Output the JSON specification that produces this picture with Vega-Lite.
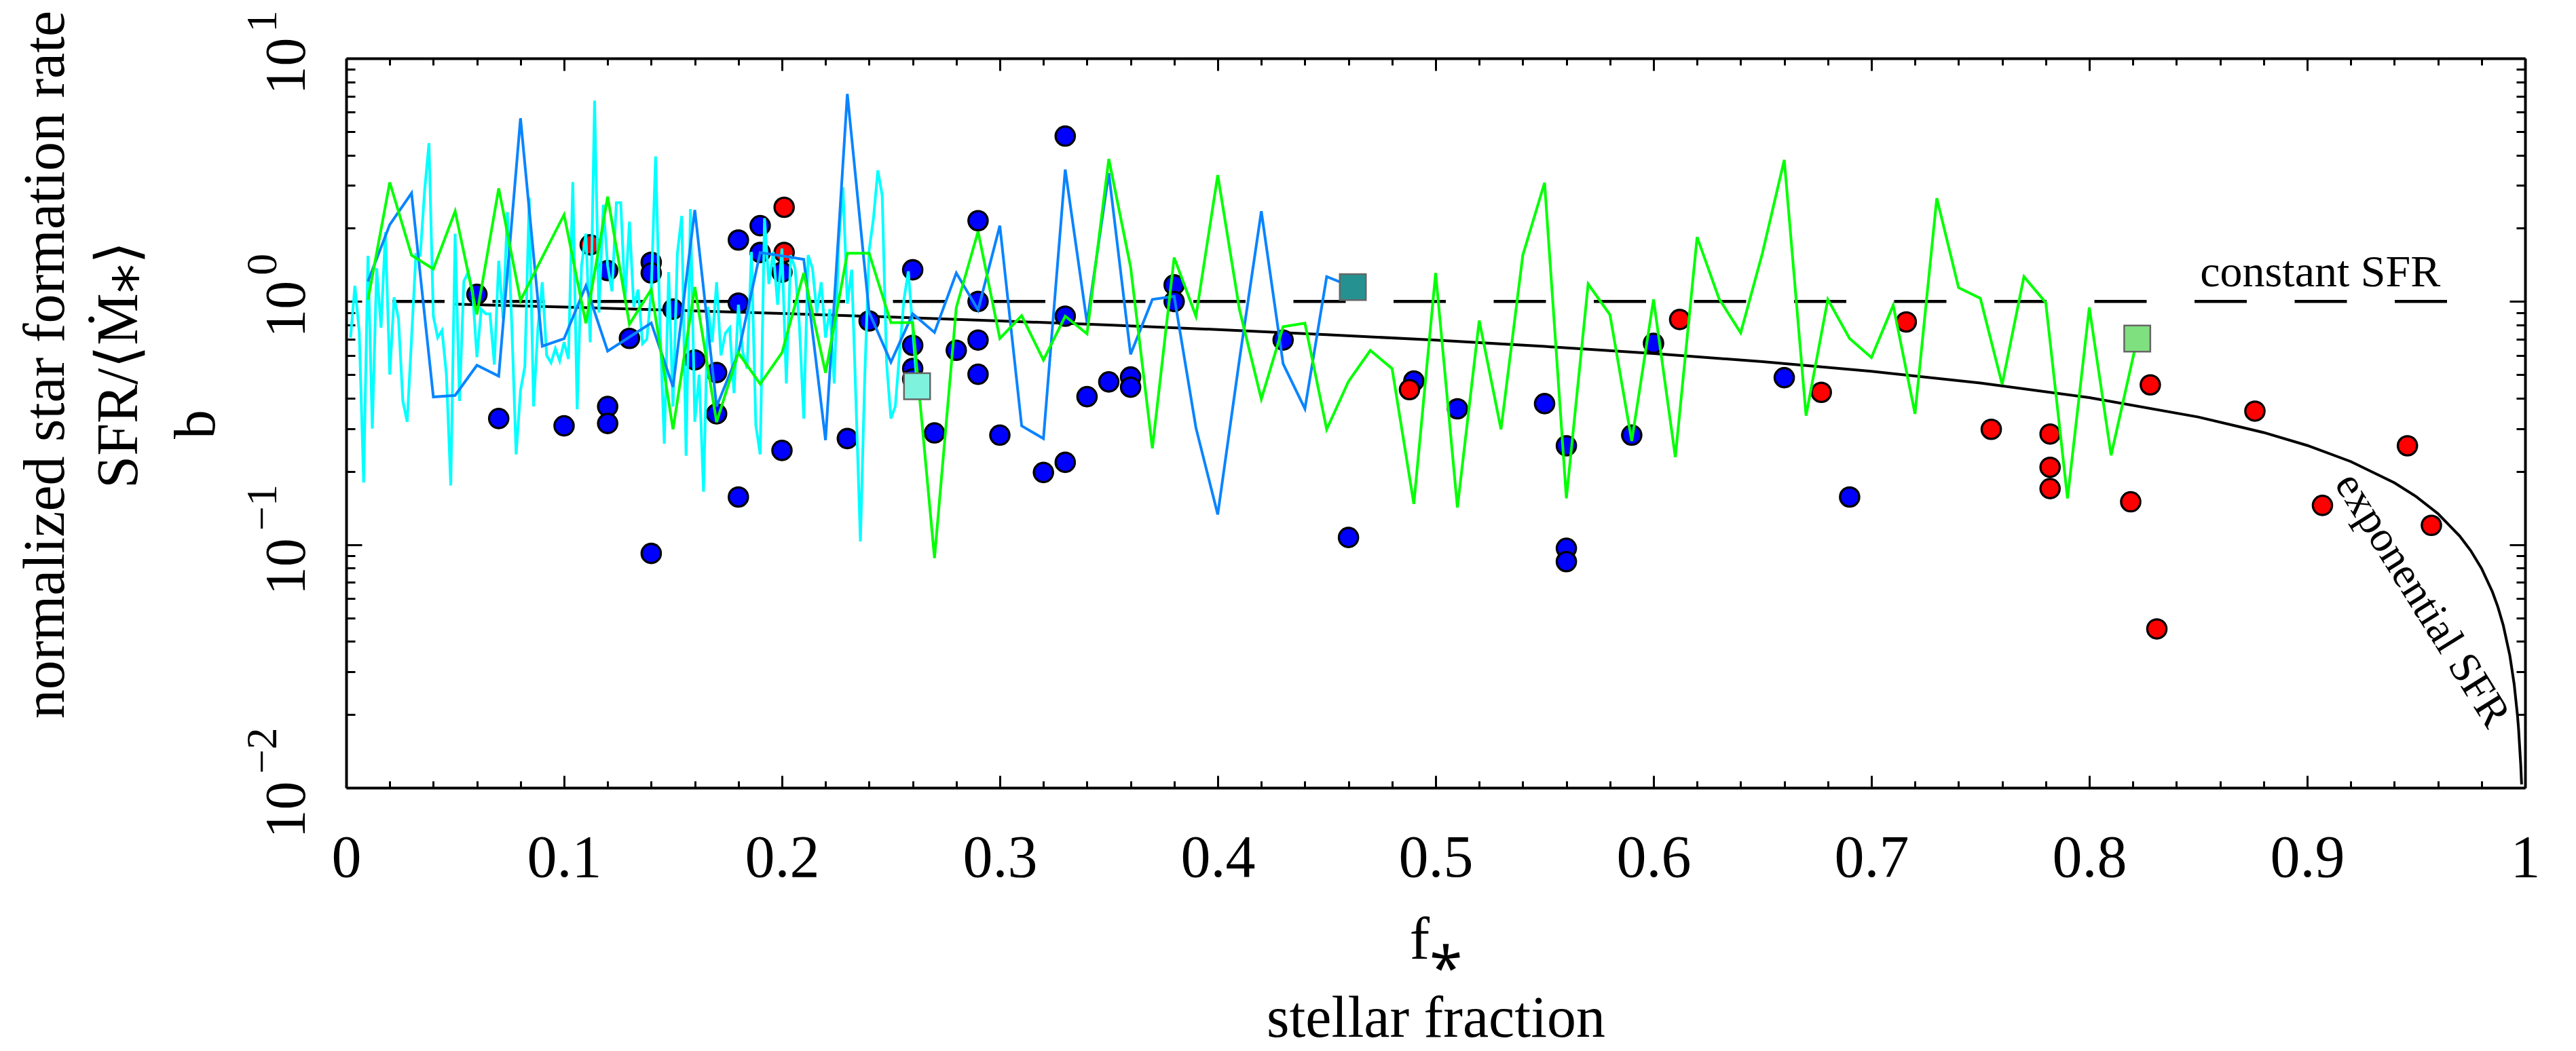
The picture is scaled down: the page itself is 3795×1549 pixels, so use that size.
{
  "$schema": "https://vega.github.io/schema/vega-lite/v6.json",
  "width": 3210,
  "height": 1075,
  "autosize": {"type": "none"},
  "padding": {"left": 510, "top": 86, "right": 75, "bottom": 388},
  "background": "white",
  "config": {
    "view": {"stroke": null},
    "font": "Liberation Serif",
    "axis": {
      "grid": false,
      "tickColor": "black",
      "tickWidth": 3,
      "domainColor": "black",
      "domainWidth": 4,
      "labelColor": "black",
      "labelFont": "Liberation Serif",
      "titleFont": "Liberation Serif",
      "titleColor": "black",
      "titleFontWeight": "normal",
      "labelOverlap": false,
      "labelFlush": false,
      "labelBound": false
    }
  },
  "resolve": {"axis": {"x": "independent", "y": "independent"}, "scale": {"fill": "independent"}},
  "datasets": {
    "constline": [{"f": 0, "b": 1}, {"f": 0.97, "b": 1}],
    "expo": [
      {"f": 0.05, "b": 0.97457}, {"f": 0.1, "b": 0.948245}, {"f": 0.15, "b": 0.92094}, {"f": 0.2, "b": 0.892574},
      {"f": 0.25, "b": 0.863046}, {"f": 0.3, "b": 0.832241}, {"f": 0.35, "b": 0.800025}, {"f": 0.4, "b": 0.766238},
      {"f": 0.45, "b": 0.73069}, {"f": 0.5, "b": 0.693147}, {"f": 0.55, "b": 0.653325}, {"f": 0.6, "b": 0.61086},
      {"f": 0.65, "b": 0.565289}, {"f": 0.7, "b": 0.515988}, {"f": 0.75, "b": 0.462098}, {"f": 0.8, "b": 0.402359},
      {"f": 0.85, "b": 0.334786}, {"f": 0.88, "b": 0.289127}, {"f": 0.9, "b": 0.255843}, {"f": 0.92, "b": 0.219629},
      {"f": 0.94, "b": 0.179579}, {"f": 0.95, "b": 0.15767}, {"f": 0.96, "b": 0.13412}, {"f": 0.97, "b": 0.10845},
      {"f": 0.975, "b": 0.094587}, {"f": 0.98, "b": 0.079837}, {"f": 0.985, "b": 0.063955}, {"f": 0.9875, "b": 0.055468},
      {"f": 0.99, "b": 0.046517}, {"f": 0.993, "b": 0.034978}, {"f": 0.995, "b": 0.026625}, {"f": 0.9965, "b": 0.019862},
      {"f": 0.997, "b": 0.01748}, {"f": 0.998, "b": 0.012454}, {"f": 0.9984, "b": 0.010317}
    ],
    "pts": [
      {"f": 0.06, "b": 1.07, "kind": "blue"}, {"f": 0.07, "b": 0.33, "kind": "blue"}, {"f": 0.10, "b": 0.308, "kind": "blue"},
      {"f": 0.12, "b": 1.34, "kind": "blue"}, {"f": 0.12, "b": 0.37, "kind": "blue"}, {"f": 0.12, "b": 0.315, "kind": "blue"},
      {"f": 0.13, "b": 0.705, "kind": "blue"}, {"f": 0.14, "b": 1.45, "kind": "blue"}, {"f": 0.14, "b": 1.31, "kind": "blue"},
      {"f": 0.14, "b": 0.092, "kind": "blue"}, {"f": 0.15, "b": 0.93, "kind": "blue"}, {"f": 0.16, "b": 0.575, "kind": "blue"},
      {"f": 0.17, "b": 0.51, "kind": "blue"}, {"f": 0.17, "b": 0.345, "kind": "blue"}, {"f": 0.18, "b": 1.79, "kind": "blue"},
      {"f": 0.18, "b": 0.985, "kind": "blue"}, {"f": 0.18, "b": 0.157, "kind": "blue"}, {"f": 0.19, "b": 2.05, "kind": "blue"},
      {"f": 0.19, "b": 1.59, "kind": "blue"}, {"f": 0.20, "b": 1.32, "kind": "blue"}, {"f": 0.20, "b": 0.244, "kind": "blue"},
      {"f": 0.23, "b": 0.273, "kind": "blue"}, {"f": 0.24, "b": 0.832, "kind": "blue"}, {"f": 0.26, "b": 1.35, "kind": "blue"},
      {"f": 0.26, "b": 0.66, "kind": "blue"}, {"f": 0.26, "b": 0.53, "kind": "blue"}, {"f": 0.26, "b": 0.48, "kind": "blue"},
      {"f": 0.27, "b": 0.288, "kind": "blue"}, {"f": 0.28, "b": 0.63, "kind": "blue"}, {"f": 0.29, "b": 2.15, "kind": "blue"},
      {"f": 0.29, "b": 1.0, "kind": "blue"}, {"f": 0.29, "b": 0.694, "kind": "blue"}, {"f": 0.29, "b": 0.502, "kind": "blue"},
      {"f": 0.30, "b": 0.282, "kind": "blue"}, {"f": 0.32, "b": 0.198, "kind": "blue"}, {"f": 0.33, "b": 4.79, "kind": "blue"},
      {"f": 0.33, "b": 0.87, "kind": "blue"}, {"f": 0.33, "b": 0.218, "kind": "blue"}, {"f": 0.34, "b": 0.406, "kind": "blue"},
      {"f": 0.35, "b": 0.467, "kind": "blue"}, {"f": 0.36, "b": 0.489, "kind": "blue"}, {"f": 0.36, "b": 0.444, "kind": "blue"},
      {"f": 0.38, "b": 1.17, "kind": "blue"}, {"f": 0.38, "b": 1.0, "kind": "blue"}, {"f": 0.43, "b": 0.694, "kind": "blue"},
      {"f": 0.46, "b": 0.107, "kind": "blue"}, {"f": 0.49, "b": 0.471, "kind": "blue"}, {"f": 0.51, "b": 0.362, "kind": "blue"},
      {"f": 0.55, "b": 0.38, "kind": "blue"}, {"f": 0.56, "b": 0.255, "kind": "blue"}, {"f": 0.56, "b": 0.0966, "kind": "blue"},
      {"f": 0.56, "b": 0.0851, "kind": "blue"}, {"f": 0.59, "b": 0.282, "kind": "blue"}, {"f": 0.60, "b": 0.673, "kind": "blue"},
      {"f": 0.66, "b": 0.486, "kind": "blue"}, {"f": 0.69, "b": 0.157, "kind": "blue"},
      {"f": 0.112, "b": 1.71, "kind": "red"}, {"f": 0.201, "b": 2.44, "kind": "red"}, {"f": 0.201, "b": 1.59, "kind": "red"},
      {"f": 0.488, "b": 0.434, "kind": "red"}, {"f": 0.612, "b": 0.843, "kind": "red"}, {"f": 0.677, "b": 0.423, "kind": "red"},
      {"f": 0.716, "b": 0.824, "kind": "red"}, {"f": 0.755, "b": 0.298, "kind": "red"}, {"f": 0.782, "b": 0.285, "kind": "red"},
      {"f": 0.782, "b": 0.208, "kind": "red"}, {"f": 0.782, "b": 0.17, "kind": "red"}, {"f": 0.819, "b": 0.15, "kind": "red"},
      {"f": 0.828, "b": 0.454, "kind": "red"}, {"f": 0.831, "b": 0.045, "kind": "red"}, {"f": 0.876, "b": 0.354, "kind": "red"},
      {"f": 0.907, "b": 0.145, "kind": "red"}, {"f": 0.946, "b": 0.255, "kind": "red"}, {"f": 0.957, "b": 0.12, "kind": "red"}
    ],
    "cyan": [
      {"f": 0.002, "b": 0.71}, {"f": 0.004, "b": 1.16}, {"f": 0.006, "b": 0.75}, {"f": 0.008, "b": 0.18}, {"f": 0.010, "b": 1.54},
      {"f": 0.012, "b": 0.30}, {"f": 0.014, "b": 1.37}, {"f": 0.016, "b": 0.78}, {"f": 0.018, "b": 1.93}, {"f": 0.020, "b": 0.50},
      {"f": 0.022, "b": 1.04}, {"f": 0.024, "b": 0.85}, {"f": 0.026, "b": 0.39}, {"f": 0.028, "b": 0.32}, {"f": 0.032, "b": 1.56},
      {"f": 0.034, "b": 1.55}, {"f": 0.036, "b": 2.86}, {"f": 0.038, "b": 4.48}, {"f": 0.040, "b": 0.87}, {"f": 0.042, "b": 0.71},
      {"f": 0.044, "b": 0.76}, {"f": 0.046, "b": 0.50}, {"f": 0.048, "b": 0.175}, {"f": 0.050, "b": 1.9}, {"f": 0.052, "b": 0.39},
      {"f": 0.054, "b": 1.21}, {"f": 0.056, "b": 1.32}, {"f": 0.058, "b": 1.1}, {"f": 0.060, "b": 0.59}, {"f": 0.062, "b": 0.93},
      {"f": 0.064, "b": 0.89}, {"f": 0.066, "b": 0.89}, {"f": 0.068, "b": 0.55}, {"f": 0.070, "b": 1.47}, {"f": 0.072, "b": 0.85},
      {"f": 0.074, "b": 2.33}, {"f": 0.076, "b": 0.8}, {"f": 0.078, "b": 0.235}, {"f": 0.080, "b": 0.43}, {"f": 0.082, "b": 0.54},
      {"f": 0.084, "b": 2.67}, {"f": 0.086, "b": 0.37}, {"f": 0.088, "b": 0.78}, {"f": 0.090, "b": 1.2}, {"f": 0.092, "b": 0.6},
      {"f": 0.094, "b": 0.56}, {"f": 0.096, "b": 0.64}, {"f": 0.098, "b": 0.57}, {"f": 0.100, "b": 0.68}, {"f": 0.102, "b": 0.58},
      {"f": 0.104, "b": 3.1}, {"f": 0.106, "b": 0.36}, {"f": 0.108, "b": 1.4}, {"f": 0.110, "b": 1.9}, {"f": 0.112, "b": 0.68},
      {"f": 0.114, "b": 6.7}, {"f": 0.116, "b": 0.90}, {"f": 0.118, "b": 2.5}, {"f": 0.120, "b": 1.4}, {"f": 0.122, "b": 1.1},
      {"f": 0.124, "b": 2.55}, {"f": 0.126, "b": 2.55}, {"f": 0.128, "b": 1.02}, {"f": 0.130, "b": 2.13}, {"f": 0.132, "b": 0.95},
      {"f": 0.134, "b": 1.12}, {"f": 0.136, "b": 0.67}, {"f": 0.138, "b": 0.70}, {"f": 0.140, "b": 1.1}, {"f": 0.142, "b": 3.95},
      {"f": 0.144, "b": 0.8}, {"f": 0.146, "b": 0.26}, {"f": 0.148, "b": 1.32}, {"f": 0.150, "b": 0.37}, {"f": 0.152, "b": 1.58},
      {"f": 0.154, "b": 2.25}, {"f": 0.156, "b": 0.232}, {"f": 0.158, "b": 2.4}, {"f": 0.160, "b": 0.32}, {"f": 0.162, "b": 0.5},
      {"f": 0.164, "b": 0.165}, {"f": 0.166, "b": 0.95}, {"f": 0.168, "b": 0.68}, {"f": 0.170, "b": 1.2}, {"f": 0.172, "b": 0.6},
      {"f": 0.174, "b": 0.74}, {"f": 0.176, "b": 0.78}, {"f": 0.178, "b": 0.42}, {"f": 0.180, "b": 0.97}, {"f": 0.182, "b": 0.62},
      {"f": 0.184, "b": 0.53}, {"f": 0.186, "b": 1.6}, {"f": 0.188, "b": 0.31}, {"f": 0.190, "b": 0.235}, {"f": 0.192, "b": 2.2},
      {"f": 0.194, "b": 1.18}, {"f": 0.196, "b": 1.6}, {"f": 0.198, "b": 0.97}, {"f": 0.200, "b": 1.65}, {"f": 0.202, "b": 0.46},
      {"f": 0.204, "b": 1.55}, {"f": 0.206, "b": 1.37}, {"f": 0.208, "b": 0.8}, {"f": 0.210, "b": 0.33}, {"f": 0.212, "b": 1.55},
      {"f": 0.214, "b": 1.37}, {"f": 0.216, "b": 0.9}, {"f": 0.218, "b": 1.2}, {"f": 0.220, "b": 0.71}, {"f": 0.222, "b": 0.93},
      {"f": 0.224, "b": 0.46}, {"f": 0.226, "b": 1.72}, {"f": 0.228, "b": 2.95}, {"f": 0.230, "b": 0.98}, {"f": 0.232, "b": 1.35},
      {"f": 0.234, "b": 0.38}, {"f": 0.236, "b": 0.103}, {"f": 0.238, "b": 0.49}, {"f": 0.240, "b": 1.62}, {"f": 0.242, "b": 2.2},
      {"f": 0.244, "b": 3.46}, {"f": 0.246, "b": 2.73}, {"f": 0.248, "b": 0.56}, {"f": 0.250, "b": 0.33}, {"f": 0.252, "b": 0.37},
      {"f": 0.254, "b": 0.62}, {"f": 0.256, "b": 1.02}, {"f": 0.258, "b": 1.33}, {"f": 0.262, "b": 0.448}
    ],
    "blueline": [
      {"f": 0.01, "b": 1.21}, {"f": 0.02, "b": 2.07}, {"f": 0.03, "b": 2.79}, {"f": 0.04, "b": 0.405}, {"f": 0.05, "b": 0.411},
      {"f": 0.06, "b": 0.547}, {"f": 0.07, "b": 0.493}, {"f": 0.08, "b": 5.67}, {"f": 0.09, "b": 0.655}, {"f": 0.10, "b": 0.703},
      {"f": 0.11, "b": 1.16}, {"f": 0.12, "b": 0.625}, {"f": 0.13, "b": 0.714}, {"f": 0.14, "b": 0.816}, {"f": 0.15, "b": 0.445},
      {"f": 0.16, "b": 2.38}, {"f": 0.17, "b": 0.37}, {"f": 0.18, "b": 0.615}, {"f": 0.19, "b": 1.59}, {"f": 0.20, "b": 1.54},
      {"f": 0.21, "b": 1.49}, {"f": 0.22, "b": 0.269}, {"f": 0.23, "b": 7.14}, {"f": 0.24, "b": 0.903}, {"f": 0.25, "b": 0.563},
      {"f": 0.26, "b": 0.89}, {"f": 0.27, "b": 0.746}, {"f": 0.28, "b": 1.31}, {"f": 0.29, "b": 0.923}, {"f": 0.30, "b": 2.05},
      {"f": 0.31, "b": 0.308}, {"f": 0.32, "b": 0.273}, {"f": 0.33, "b": 3.49}, {"f": 0.34, "b": 0.817}, {"f": 0.35, "b": 3.37},
      {"f": 0.36, "b": 0.606}, {"f": 0.37, "b": 1.02}, {"f": 0.38, "b": 1.05}, {"f": 0.39, "b": 0.302}, {"f": 0.40, "b": 0.133},
      {"f": 0.41, "b": 0.58}, {"f": 0.42, "b": 2.35}, {"f": 0.43, "b": 0.554}, {"f": 0.44, "b": 0.362}, {"f": 0.45, "b": 1.265},
      {"f": 0.462, "b": 1.146}
    ],
    "green": [
      {"f": 0.01, "b": 1.017}, {"f": 0.02, "b": 3.09}, {"f": 0.03, "b": 1.55}, {"f": 0.04, "b": 1.36}, {"f": 0.05, "b": 2.35},
      {"f": 0.06, "b": 0.885}, {"f": 0.07, "b": 2.92}, {"f": 0.08, "b": 1.01}, {"f": 0.09, "b": 1.52}, {"f": 0.10, "b": 2.275},
      {"f": 0.11, "b": 0.814}, {"f": 0.12, "b": 2.70}, {"f": 0.13, "b": 0.806}, {"f": 0.14, "b": 1.12}, {"f": 0.15, "b": 0.298},
      {"f": 0.16, "b": 1.146}, {"f": 0.17, "b": 0.319}, {"f": 0.18, "b": 0.615}, {"f": 0.19, "b": 0.458}, {"f": 0.20, "b": 0.615},
      {"f": 0.21, "b": 1.31}, {"f": 0.22, "b": 0.509}, {"f": 0.23, "b": 1.58}, {"f": 0.24, "b": 1.58}, {"f": 0.25, "b": 0.818},
      {"f": 0.26, "b": 0.818}, {"f": 0.27, "b": 0.088}, {"f": 0.28, "b": 0.944}, {"f": 0.29, "b": 1.94}, {"f": 0.30, "b": 0.704},
      {"f": 0.31, "b": 0.874}, {"f": 0.32, "b": 0.574}, {"f": 0.33, "b": 0.87}, {"f": 0.34, "b": 0.736}, {"f": 0.35, "b": 3.86},
      {"f": 0.36, "b": 1.386}, {"f": 0.37, "b": 0.249}, {"f": 0.38, "b": 1.516}, {"f": 0.39, "b": 0.87}, {"f": 0.40, "b": 3.31},
      {"f": 0.41, "b": 0.923}, {"f": 0.42, "b": 0.397}, {"f": 0.43, "b": 0.788}, {"f": 0.44, "b": 0.814}, {"f": 0.45, "b": 0.298},
      {"f": 0.46, "b": 0.469}, {"f": 0.47, "b": 0.629}, {"f": 0.48, "b": 0.530}, {"f": 0.49, "b": 0.147}, {"f": 0.50, "b": 1.31},
      {"f": 0.51, "b": 0.142}, {"f": 0.52, "b": 0.835}, {"f": 0.53, "b": 0.298}, {"f": 0.54, "b": 1.55}, {"f": 0.55, "b": 3.08},
      {"f": 0.56, "b": 0.155}, {"f": 0.57, "b": 1.18}, {"f": 0.58, "b": 0.882}, {"f": 0.59, "b": 0.267}, {"f": 0.60, "b": 1.02},
      {"f": 0.61, "b": 0.229}, {"f": 0.62, "b": 1.84}, {"f": 0.63, "b": 1.03}, {"f": 0.64, "b": 0.743}, {"f": 0.65, "b": 1.585},
      {"f": 0.66, "b": 3.82}, {"f": 0.67, "b": 0.339}, {"f": 0.68, "b": 1.02}, {"f": 0.69, "b": 0.704}, {"f": 0.70, "b": 0.588},
      {"f": 0.71, "b": 0.965}, {"f": 0.72, "b": 0.345}, {"f": 0.73, "b": 2.66}, {"f": 0.74, "b": 1.14}, {"f": 0.75, "b": 1.03},
      {"f": 0.76, "b": 0.456}, {"f": 0.77, "b": 1.265}, {"f": 0.78, "b": 0.99}, {"f": 0.79, "b": 0.155}, {"f": 0.80, "b": 0.944},
      {"f": 0.81, "b": 0.233}, {"f": 0.822, "b": 0.704}
    ],
    "squares": [
      {"f": 0.262, "b": 0.448, "s": "cyan"},
      {"f": 0.462, "b": 1.146, "s": "blue"},
      {"f": 0.822, "b": 0.704, "s": "green"}
    ],
    "lab1": [{"f": 0.906, "b": 1.154, "t": "constant SFR"}],
    "lab2": [{"f": 0.9526, "b": 0.0591, "t": "exponential SFR"}]
  },
  "layer": [
    {
      "data": {"name": "constline"},
      "mark": {"type": "line", "color": "black", "strokeWidth": 4.5, "strokeDash": [77, 70.5], "strokeDashOffset": 79.5},
      "encoding": {
        "x": {"field": "f", "type": "quantitative", "scale": {"domain": [0, 1], "nice": false, "zero": false},
          "axis": {"orient": "bottom", "values": [0, 0.1, 0.2, 0.3, 0.4, 0.5, 0.6, 0.7, 0.8, 0.9, 1], "tickSize": -18,
            "labelFontSize": 88, "labelPadding": 78, "labelBaseline": "top", "labelAlign": "center",
            "labelExpr": "datum.value == 0 ? '0' : datum.value == 1 ? '1' : format(datum.value, '.1f')",
            "title": "f⁎", "titleFontSize": 88, "titleX": 1605, "titleY": 251, "titleAlign": "center", "titleBaseline": "alphabetic"}},
        "y": {"field": "b", "type": "quantitative", "scale": {"type": "log", "domain": [0.01, 10], "nice": false},
          "axis": {"orient": "left", "values": [0.01, 0.1, 1, 10], "tickSize": -23,
            "labelFontSize": 84, "labelPadding": 85, "labelAngle": -90, "labelAlign": "center", "labelBaseline": "alphabetic",
            "labelOffset": {"condition": {"test": "datum.value < 0.5", "value": 32}, "value": 11},
            "labelExpr": "'10'",
            "title": ["normalized star formation rate", "SFR/⟨Ṁ⁎⟩"], "titleFontSize": 86, "titleAngle": -90, "titleX": -417, "titleY": 451,
            "titleAlign": "center", "titleBaseline": "alphabetic", "titleLineHeight": 108}}
      }
    },
    {
      "data": {"name": "expo"},
      "mark": {"type": "line", "color": "black", "strokeWidth": 4, "clip": true},
      "encoding": {
        "x": {"field": "f", "type": "quantitative", "scale": {"domain": [0, 1], "nice": false, "zero": false},
          "axis": {"orient": "bottom", "values": [0.02, 0.04, 0.06, 0.08, 0.12, 0.14, 0.16, 0.18, 0.22, 0.24, 0.26, 0.28, 0.32, 0.34, 0.36, 0.38, 0.42, 0.44, 0.46, 0.48, 0.52, 0.54, 0.56, 0.58, 0.62, 0.64, 0.66, 0.68, 0.72, 0.74, 0.76, 0.78, 0.82, 0.84, 0.86, 0.88, 0.92, 0.94, 0.96, 0.98],
            "tickSize": -10, "domain": false, "labels": false,
            "title": "stellar fraction", "titleFontSize": 86, "titleX": 1605, "titleY": 366, "titleAlign": "center", "titleBaseline": "alphabetic"}},
        "y": {"field": "b", "type": "quantitative", "scale": {"type": "log", "domain": [0.01, 10], "nice": false},
          "axis": {"orient": "left", "values": [0.02, 0.03, 0.04, 0.05, 0.06, 0.07, 0.08, 0.09, 0.2, 0.3, 0.4, 0.5, 0.6, 0.7, 0.8, 0.9, 2, 3, 4, 5, 6, 7, 8, 9],
            "tickSize": -13, "domain": false, "labels": false,
            "title": "b", "titleFontSize": 86, "titleAngle": -90, "titleX": -195, "titleY": 539, "titleAlign": "center", "titleBaseline": "alphabetic"}}
      }
    },
    {
      "data": {"name": "pts"},
      "mark": {"type": "point", "shape": "circle", "filled": true, "stroke": "black", "strokeWidth": 3.3, "size": 800, "opacity": 1},
      "encoding": {
        "x": {"field": "f", "type": "quantitative", "scale": {"domain": [0, 1], "nice": false, "zero": false},
          "axis": {"orient": "top", "values": [0, 0.1, 0.2, 0.3, 0.4, 0.5, 0.6, 0.7, 0.8, 0.9, 1], "tickSize": -18, "labels": false, "title": null}},
        "y": {"field": "b", "type": "quantitative", "scale": {"type": "log", "domain": [0.01, 10], "nice": false},
          "axis": {"orient": "right", "values": [0.01, 0.1, 1, 10], "tickSize": -23, "labels": false, "title": null}},
        "fill": {"field": "kind", "type": "nominal", "scale": {"domain": ["blue", "red"], "range": ["#0000FF", "#FF0000"]}, "legend": null}
      }
    },
    {
      "data": {"name": "cyan"},
      "mark": {"type": "line", "color": "#00FFFF", "strokeWidth": 4},
      "encoding": {
        "x": {"field": "f", "type": "quantitative", "scale": {"domain": [0, 1], "nice": false, "zero": false},
          "axis": {"orient": "top", "values": [0.02, 0.04, 0.06, 0.08, 0.12, 0.14, 0.16, 0.18, 0.22, 0.24, 0.26, 0.28, 0.32, 0.34, 0.36, 0.38, 0.42, 0.44, 0.46, 0.48, 0.52, 0.54, 0.56, 0.58, 0.62, 0.64, 0.66, 0.68, 0.72, 0.74, 0.76, 0.78, 0.82, 0.84, 0.86, 0.88, 0.92, 0.94, 0.96, 0.98],
            "tickSize": -10, "domain": false, "labels": false, "title": null}},
        "y": {"field": "b", "type": "quantitative", "scale": {"type": "log", "domain": [0.01, 10], "nice": false},
          "axis": {"orient": "right", "values": [0.02, 0.03, 0.04, 0.05, 0.06, 0.07, 0.08, 0.09, 0.2, 0.3, 0.4, 0.5, 0.6, 0.7, 0.8, 0.9, 2, 3, 4, 5, 6, 7, 8, 9],
            "tickSize": -13, "domain": false, "labels": false, "title": null}}
      }
    },
    {
      "data": {"name": "blueline"},
      "mark": {"type": "line", "color": "#0A84FF", "strokeWidth": 4},
      "encoding": {
        "x": {"field": "f", "type": "quantitative", "scale": {"domain": [0, 1], "nice": false, "zero": false}, "axis": null},
        "y": {"field": "b", "type": "quantitative", "scale": {"type": "log", "domain": [0.01, 10], "nice": false},
          "axis": {"orient": "left", "values": [0.01, 0.1, 1, 10], "ticks": false, "tickSize": 0, "domain": false,
            "labelFontSize": 64, "labelPadding": 104, "labelAngle": -90, "labelAlign": "center", "labelBaseline": "alphabetic", "labelOffset": -55,
            "labelExpr": "datum.value >= 9 ? '1' : datum.value >= 0.9 ? '0' : datum.value >= 0.09 ? '−1' : '−2'",
            "title": null}}
      }
    },
    {
      "data": {"name": "green"},
      "mark": {"type": "line", "color": "#00FF00", "strokeWidth": 4},
      "encoding": {
        "x": {"field": "f", "type": "quantitative", "scale": {"domain": [0, 1], "nice": false, "zero": false}, "axis": null},
        "y": {"field": "b", "type": "quantitative", "scale": {"type": "log", "domain": [0.01, 10], "nice": false}, "axis": null}
      }
    },
    {
      "data": {"name": "squares"},
      "mark": {"type": "point", "shape": "square", "filled": true, "stroke": "#666666", "strokeWidth": 2.5, "size": 1480, "opacity": 1},
      "encoding": {
        "x": {"field": "f", "type": "quantitative", "scale": {"domain": [0, 1], "nice": false, "zero": false}, "axis": null},
        "y": {"field": "b", "type": "quantitative", "scale": {"type": "log", "domain": [0.01, 10], "nice": false}, "axis": null},
        "fill": {"field": "s", "type": "nominal", "scale": {"domain": ["cyan", "blue", "green"], "range": ["#7FF2DE", "#259191", "#7FE07F"]}, "legend": null}
      }
    },
    {
      "data": {"name": "lab1"},
      "mark": {"type": "text", "font": "Liberation Serif", "fontSize": 66, "align": "center", "baseline": "alphabetic", "color": "black"},
      "encoding": {
        "x": {"field": "f", "type": "quantitative", "scale": {"domain": [0, 1], "nice": false, "zero": false}, "axis": null},
        "y": {"field": "b", "type": "quantitative", "scale": {"type": "log", "domain": [0.01, 10], "nice": false}, "axis": null},
        "text": {"field": "t"}
      }
    },
    {
      "data": {"name": "lab2"},
      "mark": {"type": "text", "font": "Liberation Serif", "fontSize": 64, "align": "center", "baseline": "middle", "angle": 58, "color": "black"},
      "encoding": {
        "x": {"field": "f", "type": "quantitative", "scale": {"domain": [0, 1], "nice": false, "zero": false}, "axis": null},
        "y": {"field": "b", "type": "quantitative", "scale": {"type": "log", "domain": [0.01, 10], "nice": false}, "axis": null},
        "text": {"field": "t"}
      }
    }
  ]
}
